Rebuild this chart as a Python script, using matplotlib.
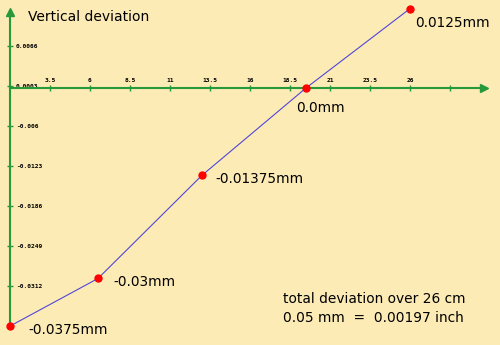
import matplotlib.pyplot as plt

# data
pos = [1, 6.5, 13, 19.5, 26]
dev = [-0.0375, -0.03, -0.01375, 0.0, 0.0125]
point_labels = ['-0.0375mm', '-0.03mm', '-0.01375mm', '0.0mm', '0.0125mm']
xticks = [3.5, 6, 8.5, 11, 13.5, 16, 18.5, 21, 23.5, 26, 28.5]
xtick_labels = ['3.5', '6', '8.5', '11', '13.5', '16', '18.5', '21', '23.5', '26', '']
yticks = [-0.0312, -0.0249, -0.0186, -0.0123, -0.006, 0.0003, 0.0066]
ytick_labels = ['-0.0312', '-0.0249', '-0.0186', '-0.0123', '-0.006', '0.0003', '0.0066']

bg = '#fdebb6'
green = '#26993a'
plt.rcParams['font.family'] = ['DejaVu Sans']

fig = plt.figure(figsize=(5, 3.45), dpi=100, facecolor=bg)
ax = fig.add_axes([0, 0, 1, 1], facecolor=bg)
ax.set_xlim(0.375, 31.625)
ax.set_ylim(-0.040478, 0.01386)

# axes through origin
for s in ['left', 'bottom']:
    ax.spines[s].set_visible(False)
ax.spines['top'].set_position(('data', 0))
ax.spines['right'].set_position(('data', 1))
ax.spines['top'].set_bounds(1, 30.3)
ax.spines['right'].set_bounds(-0.0375, 0.0115)
for s in ['top', 'right']:
    ax.spines[s].set_color(green)
    ax.spines[s].set_linewidth(1.5)
ax.plot([30.6], [0], marker='>', color=green, ms=6, clip_on=False)
ax.plot([1], [0.0119], marker='^', color=green, ms=6, clip_on=False)

ax.xaxis.set_ticks_position('top')
ax.yaxis.set_ticks_position('right')
ax.set_xticks(xticks, xtick_labels)
ax.set_yticks(yticks, ytick_labels)
ax.tick_params(direction='inout', length=4.5, width=1, color=green,
               labelsize=4.5, labelfontfamily='DejaVu Sans Mono')
ax.tick_params(axis='x', pad=1.5)
ax.tick_params(axis='y', pad=2)
for lab in ax.get_xticklabels() + ax.get_yticklabels():
    lab.set_fontweight('bold')

ax.plot(pos, dev, color='#5046d8', lw=0.8, zorder=3)
ax.plot(pos, dev, 'o', color='#ff0000', ms=5, zorder=4)

offs = [(18, -4), (15, -4), (13, -4), (-10, -20), (5, -14)]
for x, y, t, o in zip(pos, dev, point_labels, offs):
    ax.annotate(t, (x, y), xytext=o, textcoords='offset pixels',
                fontsize=9.8, va='center', ha='left')

fig.text(28 / 500, 1 - 17 / 345, 'Vertical deviation', fontsize=10, va='center')
fig.text(283 / 500, 1 - 299 / 345, 'total deviation over 26 cm', fontsize=9.9, va='center')
fig.text(283 / 500, 1 - 318 / 345, '0.05 mm  =  0.00197 inch', fontsize=9.9, va='center')

fig.savefig('out.png', dpi=100, facecolor=bg)
